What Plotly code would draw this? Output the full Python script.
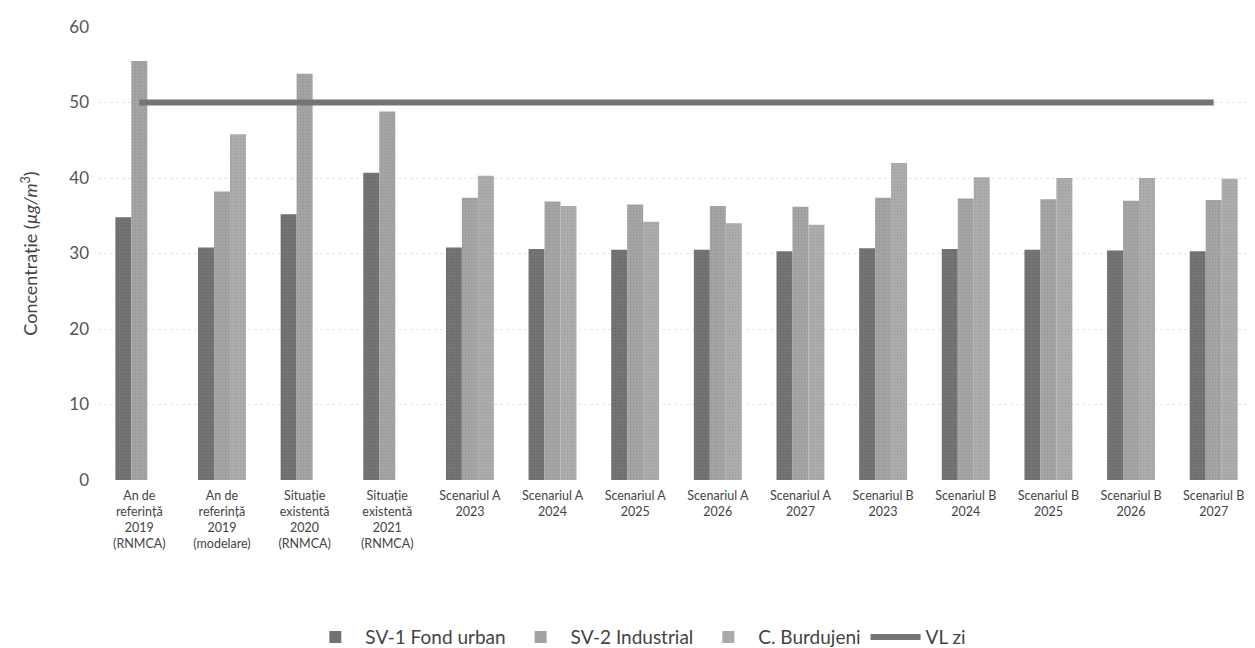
import plotly.graph_objects as go

# categories (x axis)
categories = [
    "An de<br>referință<br>2019<br>(RNMCA)",
    "An de<br>referință<br>2019<br>(modelare)",
    "Situație<br>existentă<br>2020<br>(RNMCA)",
    "Situație<br>existentă<br>2021<br>(RNMCA)",
    "Scenariul A<br>2023", "Scenariul A<br>2024", "Scenariul A<br>2025",
    "Scenariul A<br>2026", "Scenariul A<br>2027",
    "Scenariul B<br>2023", "Scenariul B<br>2024", "Scenariul B<br>2025",
    "Scenariul B<br>2026", "Scenariul B<br>2027",
]

sv1_fond_urban = [34.8, 30.8, 35.2, 40.7, 30.8, 30.6, 30.5, 30.5, 30.3,
                  30.7, 30.6, 30.5, 30.4, 30.3]
sv2_industrial = [55.5, 38.2, 53.8, 48.8, 37.4, 36.9, 36.5, 36.3, 36.2,
                  37.4, 37.3, 37.2, 37.0, 37.1]
c_burdujeni = [None, 45.8, None, None, 40.3, 36.3, 34.2, 34.0, 33.8,
               42.0, 40.1, 40.0, 40.0, 39.9]
vl_zi = [50] * len(categories)

GRID = "#e6e6e6"
FONT = "Lato, 'Open Sans', sans-serif"

fig = go.Figure()

fig.add_trace(go.Bar(
    x=categories, y=sv1_fond_urban, name="SV-1 Fond urban",
    marker=dict(color="#747474", line=dict(width=0),
                pattern=dict(shape=".", size=3, solidity=0.25, fgcolor="#5a5a5a")),
))
fig.add_trace(go.Bar(
    x=categories, y=sv2_industrial, name="SV-2 Industrial",
    marker=dict(color="#a5a5a5", line=dict(width=0),
                pattern=dict(shape=".", size=3, solidity=0.25, fgcolor="#888888")),
))
fig.add_trace(go.Bar(
    x=categories, y=c_burdujeni, name="C. Burdujeni",
    marker=dict(color="#adadad", line=dict(width=0),
                pattern=dict(shape=".", size=3, solidity=0.25, fgcolor="#8f8f8f")),
))
fig.add_trace(go.Scatter(
    x=categories, y=vl_zi, name="VL zi", mode="lines",
    line=dict(color="#747474", width=6),
))

# the page body adds an 8px offset, margins account for it
fig.update_layout(
    width=1255, height=648,
    margin=dict(l=90, r=8, t=19, b=176, autoexpand=False),
    paper_bgcolor="white", plot_bgcolor="white",
    font=dict(family=FONT, color="#444444"),
    barmode="group", bargap=0.42, bargroupgap=0,
    showlegend=True,
    legend=dict(
        orientation="h", x=0.467, xanchor="center", y=-0.305, yanchor="top",
        font=dict(size=19, color="#444444"), traceorder="normal",
        itemwidth=50,
    ),
    xaxis=dict(
        type="category", tickangle=0, showgrid=False, showline=False,
        ticks="", tickfont=dict(size=12.5, color="#444444"),
        ticklabelstandoff=6, automargin=False,
    ),
    yaxis=dict(
        range=[0, 60], dtick=10, showgrid=True, gridcolor=GRID, gridwidth=1,
        griddash="dot", zeroline=False, showline=False, ticks="",
        tickfont=dict(size=17, color="#555555"), automargin=False,
        ticklabelstandoff=8,
        title=dict(text="Concentrație (<i>µg/m</i><sup>3</sup>)",
                   font=dict(size=18, color="#444444"), standoff=26),
    ),
)

fig.write_html("out.html")
